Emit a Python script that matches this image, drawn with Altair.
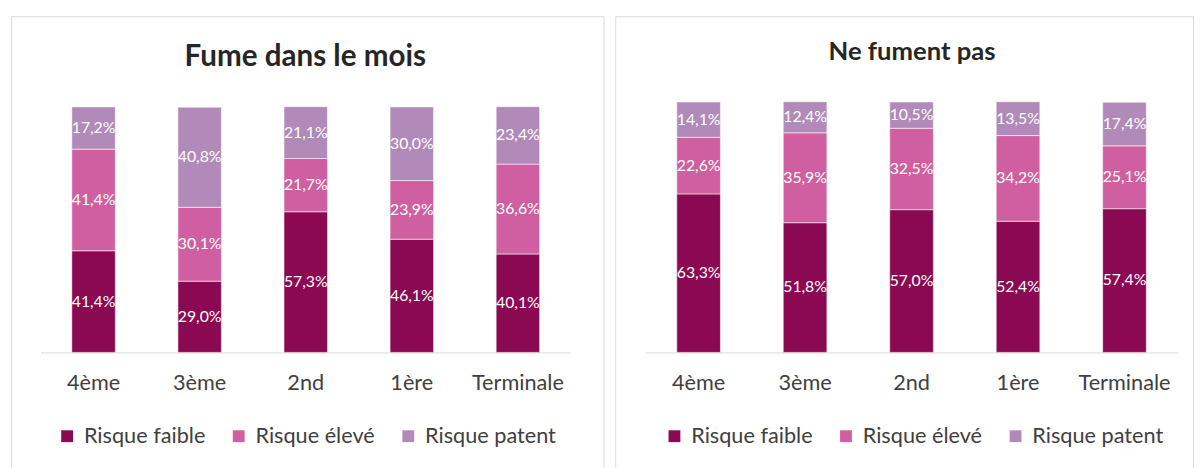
import altair as alt
import pandas as pd

categories = ["4ème", "3ème", "2nd", "1ère", "Terminale"]
series = ["Risque faible", "Risque élevé", "Risque patent"]
colors = ["#8B0952", "#CF5FA0", "#B28AB9"]

fume_faible = [41.4, 29.0, 57.3, 46.1, 40.1]
fume_eleve = [41.4, 30.1, 21.7, 23.9, 36.6]
fume_patent = [17.2, 40.8, 21.1, 30.0, 23.4]

nf_faible = [63.3, 51.8, 57.0, 52.4, 57.4]
nf_eleve = [22.6, 35.9, 32.5, 34.2, 25.1]
nf_patent = [14.1, 12.4, 10.5, 13.5, 17.4]

FONT = "Lato"
H = 460


def fmt(v):
    return f"{v:.1f}".replace(".", ",") + "%"


def panel(title, faible, eleve, patent, width, xrange, yrange, title_size, title_dy, title_dx, legend_x):
    rows = []
    for i, c in enumerate(categories):
        for k, vals in enumerate([faible, eleve, patent]):
            rows.append(dict(cat=c, serie=series[k], order=k, value=vals[i], label=fmt(vals[i])))
    df = pd.DataFrame(rows)
    base = alt.Chart(df).transform_stack(
        stack="value", groupby=["cat"], as_=["y0", "y1"],
        sort=[alt.SortField("order", order="ascending")]
    ).transform_calculate(ymid="(datum.y0 + datum.y1) / 2")

    xscale = alt.Scale(range=xrange, paddingInner=0.59, paddingOuter=0.295)
    yscale = alt.Scale(domain=[0, 100], range=yrange, nice=False)

    bars = base.mark_bar(stroke="white", strokeWidth=0.8, strokeOpacity=0.7).encode(
        x=alt.X("cat:N", sort=categories, scale=xscale,
                axis=alt.Axis(title=None, labelAngle=0, ticks=False, tickSize=0,
                              domainColor="#D9D9D9", domainWidth=1,
                              labelFontSize=22, labelFont=FONT, labelColor="#404040",
                              labelPadding=21, offset=yrange[0] - H)),
        y=alt.Y("y0:Q", scale=yscale, axis=None),
        y2="y1:Q",
        color=alt.Color("serie:N", scale=alt.Scale(domain=series, range=colors),
                        legend=alt.Legend(orient="none", legendX=legend_x, legendY=415,
                                          direction="horizontal", columns=3, title=None,
                                          symbolType="square", symbolSize=144,
                                          symbolStrokeWidth=0, symbolOpacity=1,
                                          labelFontSize=22, labelFont=FONT,
                                          labelColor="#404040", labelOffset=6,
                                          columnPadding=22, padding=0)),
    )
    text = base.mark_text(color="white", fontSize=16, font=FONT).encode(
        x=alt.X("cat:N", sort=categories),
        y=alt.Y("ymid:Q"),
        text="label:N",
    )
    return alt.layer(bars, text).properties(
        width=width, height=H,
        title=alt.TitleParams(title, fontSize=title_size, fontWeight="bold", font=FONT,
                              color="#262626", anchor="middle", baseline="middle",
                              offset=0, dy=title_dy, dx=title_dx),
    )


left = panel("Fume dans le mois", fume_faible, fume_eleve, fume_patent,
             601, [30, 568], [341, 92], 30, 71, -2, 46)
right = panel("Ne fument pas", nf_faible, nf_eleve, nf_patent,
              586, [30.5, 570.5], [341, 87], 26, 62, 8, 49)

chart = alt.hconcat(left, right, spacing=10).resolve_scale(
    x="independent", y="independent", color="independent"
).resolve_legend(color="independent").properties(
    padding={"left": 2, "top": 4, "right": 0, "bottom": 0}
).configure_view(stroke="#D9D9D9", strokeWidth=1)

chart.save("out.html", embed_options={"renderer": "svg", "actions": False})
